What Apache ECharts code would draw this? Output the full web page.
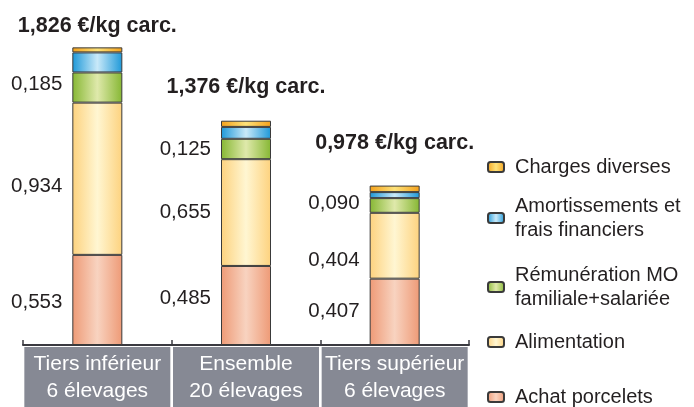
<!DOCTYPE html>
<html>
<head>
<meta charset="utf-8">
<script src="https://cdn.jsdelivr.net/npm/echarts@6/dist/echarts.min.js"></script>
<style>
  html, body { margin: 0; padding: 0; background: #fff; }
  #chart { width: 694px; height: 407px; }
</style>
</head>
<body>
<div id="chart"></div>
<script>
// categories (x axis)
var categories = ['Tiers inférieur\n6 élevages', 'Ensemble\n20 élevages', 'Tiers supérieur\n6 élevages'];

// cost components, €/kg carc.
var achatPorcelets = [0.553, 0.485, 0.407];
var alimentation = [0.934, 0.655, 0.404];
var remuneration = [0.185, 0.125, 0.090];
var amortissements = [0.123, 0.073, 0.037];
var chargesDiverses = [0.031, 0.038, 0.040];
var totals = [1.826, 1.376, 0.978];

// layout tweaks: how far the total label sits above each bar (px),
// and small vertical nudges of the value labels (px)
var totalLift = [10, 23, 32];
var nudgeAchat = [2, -7, 0];
var nudgeAlim = [8, 0, 15];
var nudgeRemu = [-3, 0, -2];

var FONT = '"Liberation Sans", Arial, Helvetica, sans-serif';
var TXT = '#231f20';

function fr(v) {
    return v.toFixed(3).replace('.', ',');
}

function grad(edge, mid) {
    return {
        type: 'linear', x: 0, y: 0, x2: 1, y2: 0,
        colorStops: [
            { offset: 0, color: edge },
            { offset: 0.5, color: mid },
            { offset: 1, color: edge }
        ]
    };
}

function labelled(values, nudge) {
    return values.map(function (v, i) {
        return {
            value: v,
            label: {
                show: true,
                position: 'left',
                distance: 10,
                offset: [0, nudge[i]],
                fontFamily: FONT,
                fontSize: 20.5,
                color: TXT,
                formatter: function () { return fr(v); }
            }
        };
    });
}

function makeSeries(name, data, fill) {
    return {
        name: name,
        type: 'bar',
        stack: 'cout',
        barWidth: 50,
        data: data,
        itemStyle: { color: fill, borderColor: '#3a3a3a', borderWidth: 1 },
        emphasis: { disabled: true }
    };
}

var legendNames = {
    'Charges diverses': 'Charges diverses',
    'Amortissements et frais financiers': 'Amortissements et\nfrais financiers',
    'Rémunération MO familiale+salariée': 'Rémunération MO\nfamiliale+salariée',
    'Alimentation': 'Alimentation',
    'Achat porcelets': 'Achat porcelets'
};
var legendTops = [155, 194, 263, 330, 385];

var legends = Object.keys(legendNames).map(function (n, i) {
    return {
        data: [n],
        left: 487,
        top: legendTops[i],
        padding: 0,
        itemWidth: 16,
        itemHeight: 10,
        selectedMode: false,
        formatter: function (name) { return legendNames[name]; },
        textStyle: { fontFamily: FONT, fontSize: 20, lineHeight: 24, color: TXT, padding: [0, 0, 0, 6] }
    };
});

var chart = echarts.init(document.getElementById('chart'));

var topData = chargesDiverses.map(function (v, i) {
    return {
        value: v,
        label: {
            show: true,
            position: 'top',
            distance: totalLift[i],
            fontFamily: FONT,
            fontSize: 21.5,
            fontWeight: 'bold',
            color: TXT,
            formatter: function () { return fr(totals[i]) + ' €/kg carc.'; }
        }
    };
});

chart.setOption({
    animation: false,
    textStyle: { fontFamily: FONT },
    legend: legends,
    grid: { left: 23, right: 225, top: 19, bottom: 62, outerBoundsMode: 'none' },
    xAxis: {
        type: 'category',
        data: categories,
        axisLine: { lineStyle: { color: '#3a3a40', width: 2 } },
        axisTick: { show: true, inside: true, length: 5, lineStyle: { color: '#3a3a40', width: 1.5 } },
        axisLabel: {
            interval: 0,
            margin: 2,
            color: '#fff',
            fontFamily: FONT,
            fontSize: 21,
            lineHeight: 27,
            width: 146,
            align: 'center',
            backgroundColor: '#868994',
            padding: [4, 0, 10, 0]
        }
    },
    yAxis: { type: 'value', min: 0, max: 2, show: false },
    series: [
        makeSeries('Achat porcelets', labelled(achatPorcelets, nudgeAchat), grad('#ee9a76', '#f8d3c0')),
        makeSeries('Alimentation', labelled(alimentation, nudgeAlim), grad('#fdd27e', '#fff6d2')),
        makeSeries('Rémunération MO familiale+salariée', labelled(remuneration, nudgeRemu), grad('#86b733', '#dfe9ab')),
        makeSeries('Amortissements et frais financiers', amortissements, grad('#1d98d8', '#c9e9f9')),
        makeSeries('Charges diverses', topData, grad('#f4a11b', '#fde27a'))
    ]
});
window.onresize = chart.resize;
</script>
</body>
</html>
